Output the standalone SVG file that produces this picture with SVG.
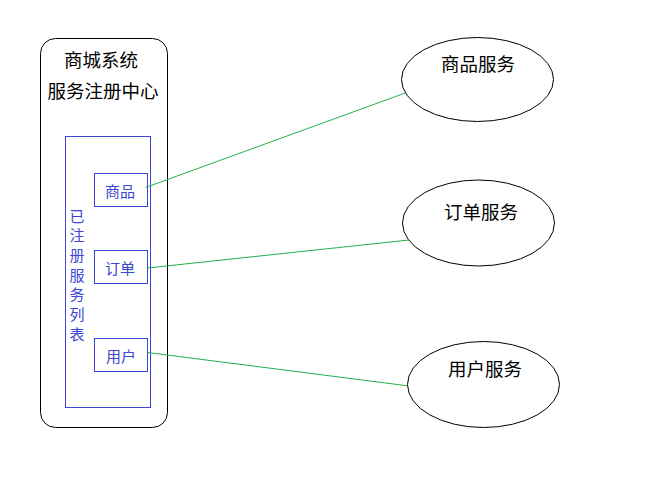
<svg xmlns="http://www.w3.org/2000/svg" width="645" height="490" viewBox="0 0 645 490">
<style>
text{font-family:"Noto Sans CJK SC","Noto Sans",sans-serif;dominant-baseline:central;text-anchor:middle}
.blk{fill:#000;font-size:18.5px}
.blu{fill:#3c46d2;font-size:15px}
.box{fill:none;stroke:#3c46d2;stroke-width:1}
.ell{fill:#fff;stroke:#000;stroke-width:1}
.con{stroke:#22b14c;stroke-width:1;fill:none}
</style>
<rect width="645" height="490" fill="#fff"/>
<g id="registry">
<rect x="40.5" y="38.5" width="127" height="389" rx="15" ry="15" fill="#fff" stroke="#000"/>
<text class="blk" x="101" y="59">商城系统</text>
<text class="blk" x="103" y="90">服务注册中心</text>
</g>
<g id="registered-list">
<rect class="box" x="65.5" y="136.5" width="85" height="271"/>
<text class="blu" x="77" y="215">已</text>
<text class="blu" x="77" y="234.7">注</text>
<text class="blu" x="77" y="254.4">册</text>
<text class="blu" x="77" y="274.1">服</text>
<text class="blu" x="77" y="293.8">务</text>
<text class="blu" x="77" y="313.5">列</text>
<text class="blu" x="77" y="333.2">表</text>
</g>
<g id="reg-goods">
<rect class="box" x="94.5" y="173.5" width="53" height="33"/>
<text class="blu" x="120" y="190">商品</text>
</g>
<g id="reg-order">
<rect class="box" x="94.5" y="250.5" width="53" height="33"/>
<text class="blu" x="120" y="267">订单</text>
</g>
<g id="reg-user">
<rect class="box" x="94.5" y="338.5" width="53" height="33"/>
<text class="blu" x="121" y="355">用户</text>
</g>
<g id="connectors">
<line class="con" x1="145.5" y1="187.5" x2="408" y2="92"/>
<line class="con" x1="147.5" y1="268" x2="409" y2="240"/>
<line class="con" x1="147.5" y1="352.5" x2="409" y2="386"/>
</g>
<g id="goods-service">
<ellipse class="ell" cx="477.5" cy="79.5" rx="76" ry="42"/>
<text class="blk" x="478" y="63">商品服务</text>
</g>
<g id="order-service">
<ellipse class="ell" cx="478.5" cy="223" rx="76" ry="43"/>
<text class="blk" x="481" y="211">订单服务</text>
</g>
<g id="user-service">
<ellipse class="ell" cx="483.5" cy="384.5" rx="76" ry="43"/>
<text class="blk" x="485" y="368">用户服务</text>
</g>
</svg>
